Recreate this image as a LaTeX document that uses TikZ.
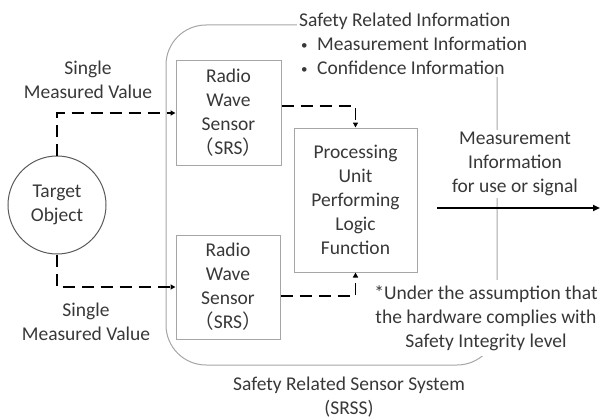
\documentclass[tikz,border=0pt]{standalone}
\usepackage{fontspec}
\setmainfont{Carlito}
\newfontfamily\cjkfont{Noto Sans CJK JP}
\usetikzlibrary{arrows.meta}
\definecolor{txt}{HTML}{383838}
\definecolor{boxgray}{HTML}{A6A6A6}
\definecolor{circgray}{HTML}{595959}
\newcommand{\smbul}{\hspace{2pt}\makebox[16pt][l]{\fontsize{13}{24}\selectfont\raisebox{1pt}{•}}}
\begin{document}
\begin{tikzpicture}[x=1pt,y=-1pt,
  every node/.style={font=\fontsize{19.5}{24}\selectfont, text=txt, align=center},
  sbox/.style={draw=boxgray, line width=1pt, inner sep=0pt},
  lbl/.style={fill=white, inner sep=2pt},
  darr/.style={draw=black, line width=1.6pt, dash pattern=on 12pt off 7pt, -{Triangle[length=5pt,width=5pt]}},
  sarr/.style={draw=black, line width=1.8pt, -{Triangle[length=7pt,width=6pt]}},
]
\useasboundingbox (0,0) rectangle (600,420);
% system boundary
\draw[boxgray, line width=1pt, rounded corners=40pt] (166,25) rectangle (497,365);
% labels with white background over the boundary
\node[lbl, anchor=west, align=left] (sri) at (297,44) {Safety Related Information\\\smbul Measurement Information\\\smbul Confidence Information};
\node[lbl] (meas) at (515,164) {Measurement\\Information\\for use or signal};
\node[lbl, inner ysep=5pt] (note) at (486,318) {*Under the assumption that\\the hardware complies with\\Safety Integrity level};
\node (srss) at (349,397) {Safety Related Sensor System\\(SRSS)};
\node (lab1) at (88,80) {Single\\Measured Value};
\node (lab2) at (86,322) {Single\\Measured Value};
% main elements
\node[draw=circgray, line width=1pt, circle, minimum size=98pt, inner sep=0pt] (target) at (57,205) {Target\\Object};
\node[sbox, minimum width=105pt, minimum height=104pt] (srs1) at (228.5,113) {Radio\\Wave\\Sensor\\{\cjkfont （}SRS{\cjkfont ）}};
\node[sbox, minimum width=104pt, minimum height=104pt] (srs2) at (228,287) {Radio\\Wave\\Sensor\\{\cjkfont （}SRS{\cjkfont ）}};
\node[sbox, minimum width=123pt, minimum height=144pt] (proc) at (355.5,200) {Processing\\Unit\\Performing\\Logic\\Function};
% connectors
\draw[darr] (target.north) |- (srs1.west);
\draw[darr] (target.south) |- (srs2.west);
\draw[darr] ([yshift=7pt]srs1.east) -| (proc.north);
\draw[darr] ([yshift=-9pt]srs2.east) -| (proc.south);
\coordinate (o1) at (437,208);
\coordinate (o2) at (600,208);
\draw[sarr] (o1) -- (o2);
\end{tikzpicture}
\end{document}
